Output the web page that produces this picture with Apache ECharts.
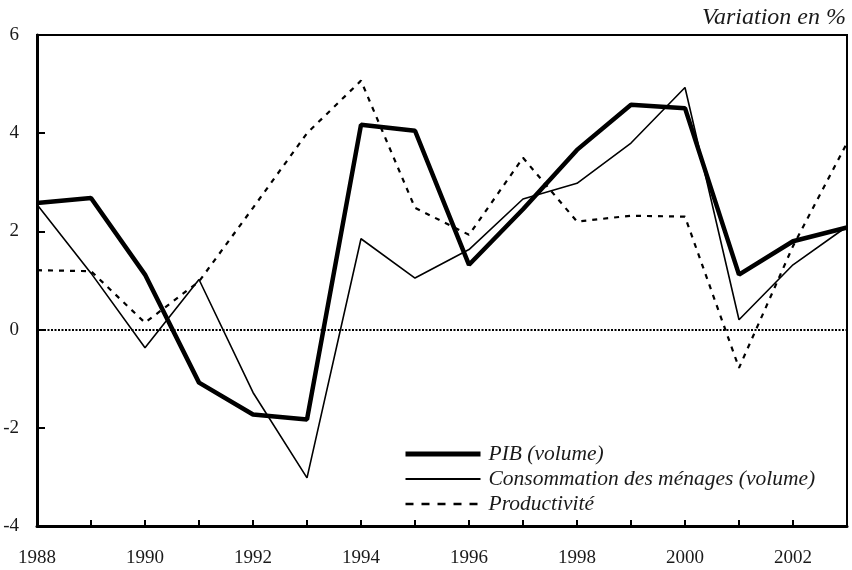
<!DOCTYPE html>
<html>
<head>
<meta charset="utf-8">
<script src="https://cdn.jsdelivr.net/npm/echarts@6/dist/echarts.min.js"></script>
<style>html,body{margin:0;padding:0;background:#fff}#c{width:852px;height:570px}</style>
</head>
<body>
<div id="c"></div>
<script>
const years = [1988,1989,1990,1991,1992,1993,1994,1995,1996,1997,1998,1999,2000,2001,2002,2003];
const pib = [2.58,2.68,1.12,-1.08,-1.73,-1.83,4.17,4.05,1.32,2.45,3.66,4.58,4.51,1.12,1.80,2.08];
const conso = [2.55,1.15,-0.37,1.02,-1.28,-3.02,1.85,1.05,1.63,2.66,2.98,3.80,4.93,0.20,1.32,2.10];
const prod = [1.21,1.19,0.14,0.98,2.48,4.00,5.07,2.48,1.93,3.50,2.20,2.32,2.30,-0.78,1.70,3.80];
const names = ['PIB (volume)','Consommation des ménages (volume)','Productivité'];
const yTicks = [-4,-2,0,2,4,6];
const font = 'Liberation Serif';

const pair = arr => years.map((y,i)=>[y,arr[i]]);
const chart = echarts.init(document.getElementById('c'));
chart.setOption({
  animation:false,
  backgroundColor:'#fff',
  title:{text:'Variation en %',right:6,top:6,padding:0,textStyle:{fontFamily:font,fontStyle:'italic',fontWeight:'normal',fontSize:24,color:'#1a1a1a'}},
  grid:{left:37,right:5,top:35,bottom:44,show:true,borderColor:'#000',borderWidth:2,backgroundColor:'transparent'},
  xAxis:{type:'value',min:1988,max:2003,interval:1,
    axisLine:{show:true,onZero:false,lineStyle:{color:'#000',width:3}},
    axisTick:{show:true,inside:true,length:6,lineStyle:{color:'#000',width:2}},
    splitLine:{show:false},
    axisLabel:{fontFamily:font,fontSize:19,color:'#1a1a1a',margin:23,formatter:v=>(v%2===0&&v<2003)?String(v):''}},
  yAxis:{type:'value',min:-4,max:6,interval:2,
    axisLine:{show:true,onZero:false,lineStyle:{color:'#000',width:3}},
    axisTick:{show:true,inside:true,length:8,lineStyle:{color:'#000',width:2}},
    splitLine:{show:false},
    axisLabel:{fontFamily:font,fontSize:19,color:'#1a1a1a',margin:18,formatter:v=>yTicks.includes(v)?String(v):''}},
  legend:{orient:'vertical',left:398,top:438,itemWidth:75,itemHeight:14,itemGap:3,
    itemStyle:{opacity:0},
    textStyle:{fontFamily:font,fontStyle:'italic',fontSize:21.5,color:'#1a1a1a',padding:[0,0,0,3]},
    data:[
      {name:names[0],lineStyle:{width:5,color:'#000'}},
      {name:names[1],lineStyle:{width:2,color:'#000'}},
      {name:names[2],lineStyle:{width:2.5,color:'#000',type:[8,8]}}
    ]},
  series:[
    {name:names[0],type:'line',data:pair(pib),symbol:'none',itemStyle:{color:'#000'},lineStyle:{color:'#000',width:4.5},z:5,
      markLine:{silent:true,symbol:'none',label:{show:false},lineStyle:{color:'#000',type:[2,1.5],width:1.8},data:[{yAxis:0}]}},
    {name:names[1],type:'line',data:pair(conso),symbol:'none',itemStyle:{color:'#000'},lineStyle:{color:'#000',width:1.6},z:4},
    {name:names[2],type:'line',data:pair(prod),symbol:'none',itemStyle:{color:'#000'},lineStyle:{color:'#000',width:2.2,type:[5,6]},z:3}
  ]
});
</script>
</body>
</html>
